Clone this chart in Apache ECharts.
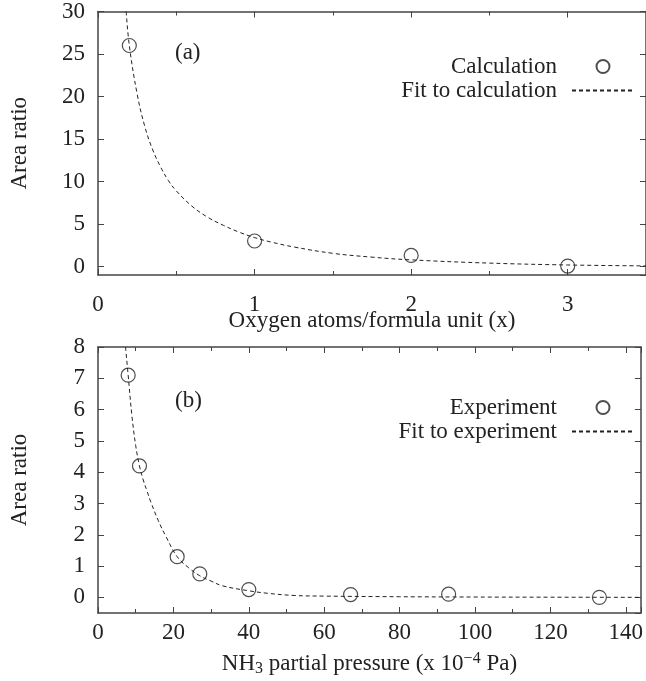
<!DOCTYPE html>
<html>
<head>
<meta charset="utf-8">
<script src="https://cdn.jsdelivr.net/npm/echarts@6/dist/echarts.min.js"></script>
<style>
  body { margin: 0; background: #fff; }
  #chart { width: 646px; height: 681px; }
</style>
</head>
<body>
<div id="chart"></div>
<script>
    // (a) calculation
    var calcX = [0.2, 1, 2, 3];
    var calcY = [26, 3.0, 1.3, 0.05];
    var fitAX = [0.18, 0.2, 0.25, 0.3, 0.35, 0.4, 0.45, 0.5, 0.6, 0.7, 0.8, 0.9, 1.0, 1.1, 1.25, 1.5, 1.75, 2.0, 2.5, 3.0, 3.5];
    var fitAY = [30, 26, 20.3, 16.4, 13.7, 11.7, 10.1, 8.9, 7.1, 5.8, 4.85, 4.05, 3.4, 2.9, 2.3, 1.55, 1.1, 0.78, 0.4, 0.18, 0.07];

    // (b) experiment
    var expX = [8, 11, 21, 27, 40, 67, 93, 133];
    var expY = [7.1, 4.2, 1.3, 0.75, 0.25, 0.09, 0.1, 0.0];
    var fitBX = [7.3, 8, 9, 10, 11, 12, 13, 14, 16, 18, 21, 24, 27, 30, 33, 40, 45, 52, 60, 80, 100, 120, 144];
    var fitBY = [8, 7.1, 5.8, 4.85, 4.2, 3.75, 3.4, 3.05, 2.45, 1.95, 1.3, 0.95, 0.69, 0.52, 0.37, 0.21, 0.13, 0.06, 0.04, 0.02, 0.01, 0.005, 0];

    var font = "'Liberation Serif', 'DejaVu Serif', serif";
    var ink = '#222';
    var frame = '#444';
    var fs = 23;

    function pairs(xs, ys) {
        var out = [];
        for (var i = 0; i < xs.length; i++) out.push([xs[i], ys[i]]);
        return out;
    }

    function xAx(grid, pos, min, max, interval, margin, extra) {
        var a = {
            gridIndex: grid, type: 'value', position: pos, min: min, max: max, interval: interval,
            axisLine: { onZero: false, lineStyle: { color: frame, width: 1.5 } },
            axisTick: { inside: true, length: 6, lineStyle: { color: frame } },
            minorTick: { show: true, splitNumber: 2, length: 4, lineStyle: { color: frame } },
            splitLine: { show: false },
            axisLabel: { show: pos === 'bottom', showMaxLabel: false, margin: margin, fontFamily: font, fontSize: fs, color: ink }
        };
        return Object.assign(a, extra || {});
    }

    function yAx(grid, pos, min, max, split, extra) {
        var a = {
            gridIndex: grid, type: 'value', position: pos, min: min, max: max, splitNumber: split,
            axisLine: { onZero: false, lineStyle: { color: frame, width: 1.5 } },
            axisTick: { inside: true, length: 6, lineStyle: { color: frame } },
            splitLine: { show: false },
            axisLabel: { show: pos === 'left', showMinLabel: false, margin: 13, fontFamily: font, fontSize: fs, color: ink }
        };
        return Object.assign(a, extra || {});
    }

    var nameStyle = { fontFamily: font, fontSize: fs, color: ink };
    var legendText = { fontFamily: font, fontSize: fs, lineHeight: 22, color: ink, padding: [0, 10, 0, 0] };

    var myChart = echarts.init(document.getElementById('chart'));
    var option = {
        animation: false,
        backgroundColor: '#fff',
        grid: [
            { left: 96, top: 9, right: -1, height: 266 },
            { left: 96, top: 347, right: -1, height: 266 }
        ],
        xAxis: [
            xAx(0, 'bottom', 0, 3.5, 1, 18, {
                name: 'Oxygen atoms/formula unit (x)', nameLocation: 'middle', nameGap: 34,
                nameMoveOverlap: false, nameTextStyle: nameStyle
            }),
            xAx(0, 'top', 0, 3.5, 1, 8),
            xAx(1, 'bottom', 0, 144, 20, 8, {
                name: 'NH{sub|3} partial pressure (x 10{sup|\u22124} Pa)', nameLocation: 'middle', nameGap: 38,
                nameMoveOverlap: false,
                nameTextStyle: Object.assign({}, nameStyle, {
                    rich: {
                        sub: { fontFamily: font, fontSize: 16, color: ink, verticalAlign: 'bottom', padding: [10, 0, 0, 0] },
                        sup: { fontFamily: font, fontSize: 16, color: ink, verticalAlign: 'top', padding: [0, 0, 10, 0] }
                    }
                })
            }),
            xAx(1, 'top', 0, 144, 20, 8)
        ],
        yAxis: [
            yAx(0, 'left', -1, 30, 6, {
                name: 'Area ratio', nameLocation: 'middle', nameGap: 67, nameTextStyle: nameStyle
            }),
            yAx(0, 'right', -1, 30, 6),
            yAx(1, 'left', -0.5, 8, 8, {
                name: 'Area ratio', nameLocation: 'middle', nameGap: 67, nameTextStyle: nameStyle
            }),
            yAx(1, 'right', -0.5, 8, 8)
        ],
        legend: [
            {
                data: ['Calculation', { name: 'Fit to calculation', itemStyle: { opacity: 0 } }],
                orient: 'vertical', align: 'right', right: 6, top: 50,
                itemWidth: 62, itemHeight: 13, itemGap: 1,
                textStyle: legendText
            },
            {
                data: ['Experiment', { name: 'Fit to experiment', itemStyle: { opacity: 0 } }],
                orient: 'vertical', align: 'right', right: 6, top: 391,
                itemWidth: 62, itemHeight: 13, itemGap: 1,
                textStyle: legendText
            }
        ],
        graphic: [
            { type: 'text', left: 175, top: 41, style: { text: '(a)', fontFamily: font, fontSize: fs, fill: ink } },
            { type: 'text', left: 175, top: 389, style: { text: '(b)', fontFamily: font, fontSize: fs, fill: ink } }
        ],
        series: [
            {
                name: 'Fit to calculation', type: 'line', xAxisIndex: 0, yAxisIndex: 0,
                data: pairs(fitAX, fitAY), symbol: 'none', smooth: 0.4,
                lineStyle: { type: [4, 3], width: 1, color: ink }, itemStyle: { color: ink }
            },
            {
                name: 'Calculation', type: 'scatter', xAxisIndex: 0, yAxisIndex: 0,
                data: pairs(calcX, calcY), symbol: 'circle', symbolSize: 14,
                itemStyle: { color: 'rgba(0,0,0,0)', borderColor: ink, borderWidth: 1.2 }
            },
            {
                name: 'Fit to experiment', type: 'line', xAxisIndex: 2, yAxisIndex: 2,
                data: pairs(fitBX, fitBY), symbol: 'none', smooth: 0.4,
                lineStyle: { type: [4, 3], width: 1, color: ink }, itemStyle: { color: ink }
            },
            {
                name: 'Experiment', type: 'scatter', xAxisIndex: 2, yAxisIndex: 2,
                data: pairs(expX, expY), symbol: 'circle', symbolSize: 14,
                itemStyle: { color: 'rgba(0,0,0,0)', borderColor: ink, borderWidth: 1.2 }
            }
        ]
    };
    myChart.setOption(option);
</script>
</body>
</html>
